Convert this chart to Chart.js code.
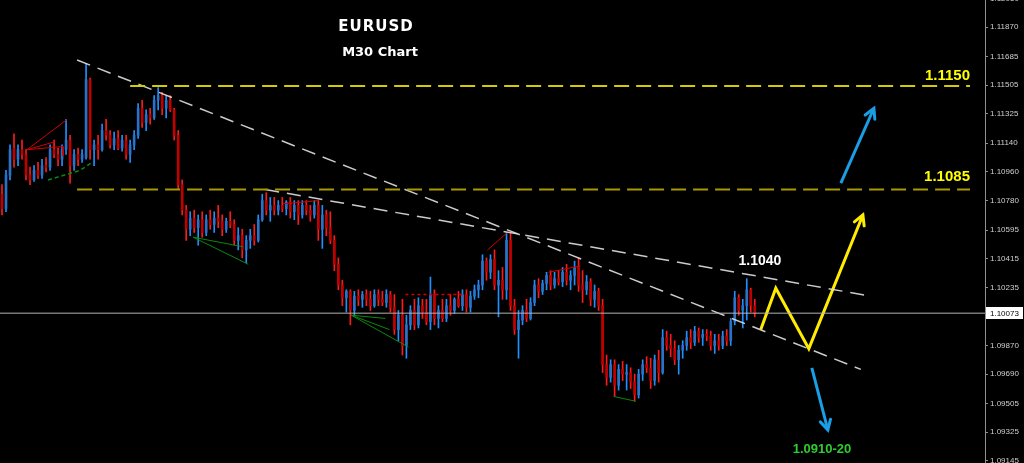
<!DOCTYPE html>
<html><head><meta charset="utf-8">
<script src="https://cdn.jsdelivr.net/npm/chart.js@4.4.1/dist/chart.umd.min.js"></script>
<style>html,body{margin:0;padding:0;background:#000;overflow:hidden}canvas{display:block}</style>
</head><body>
<canvas id="c" width="1024" height="463"></canvas>
<script>
// ---- M30 EURUSD candles ----
const open=[
1.1082,1.1073,1.1094,1.1111,1.1104,1.1110,1.1107,1.1094,1.1091,1.1097,
1.1094,1.1100,1.1099,1.1110,1.1107,1.1104,1.1110,1.1116,1.1100,1.1107,
1.1104,1.1105,1.1154,1.1110,1.1113,1.1110,1.1122,1.1119,1.1113,1.1117,
1.1111,1.1116,1.1107,1.1113,1.1119,1.1136,1.1127,1.1132,1.1130,1.1141,
1.1144,1.1136,1.1141,1.1135,1.1119,1.1088,1.1072,1.1060,1.1067,1.1061,
1.1066,1.1058,1.1066,1.1063,1.1067,1.1065,1.1060,1.1065,1.1063,1.1053,
1.1056,1.1047,1.1053,1.1056,1.1053,1.1066,1.1078,1.1072,1.1075,1.1072,
1.1075,1.1073,1.1077,1.1071,1.1075,1.1069,1.1075,1.1072,1.1069,1.1075,
1.1060,1.1069,1.1061,1.1053,1.1038,1.1025,1.1017,1.1021,1.1009,1.1018,
1.1016,1.1019,1.1016,1.1012,1.1019,1.1016,1.1014,1.1019,1.1011,1.0997,
1.1006,1.0987,1.1000,1.1009,1.1000,1.1012,1.1008,1.1002,1.1019,1.1004,
1.1009,1.1004,1.1012,1.1009,1.1016,1.1012,1.1019,1.1011,1.1018,1.1022,
1.1025,1.1040,1.1033,1.1041,1.1025,1.1028,1.1022,1.1053,1.1012,1.0997,
1.1003,1.1009,1.1004,1.1014,1.1025,1.1021,1.1026,1.1031,1.1025,1.1029,
1.1027,1.1033,1.1028,1.1031,1.1036,1.1025,1.1022,1.1027,1.1016,1.1021,
1.1012,1.0975,1.0967,1.0975,1.0962,1.0972,1.0969,1.0970,1.0964,1.0956,
1.0969,1.0975,1.0973,1.0965,1.0978,1.0970,1.0992,1.0987,1.0985,1.0978,
1.0984,1.0987,1.0992,1.0989,1.0996,1.0992,1.0994,1.0993,1.0987,1.0990,
1.0987,1.0993,1.0990,1.1002,1.1017,1.1009,1.1012,1.1022,1.1012];
const high=[
1.1088,1.1097,1.1113,1.1120,1.1113,1.1116,1.1110,1.1099,1.1100,1.1102,
1.1104,1.1105,1.1113,1.1116,1.1111,1.1113,1.1129,1.1119,1.1110,1.1111,
1.1110,1.1164,1.1155,1.1116,1.1119,1.1126,1.1129,1.1122,1.1121,1.1122,
1.1119,1.1119,1.1116,1.1122,1.1139,1.1141,1.1135,1.1136,1.1144,1.1149,
1.1146,1.1144,1.1144,1.1136,1.1122,1.1091,1.1075,1.1071,1.1072,1.1069,
1.1071,1.1069,1.1072,1.1071,1.1075,1.1069,1.1067,1.1071,1.1066,1.1061,
1.1060,1.1056,1.1060,1.1063,1.1069,1.1082,1.1083,1.1080,1.1080,1.1078,
1.1080,1.1078,1.1080,1.1078,1.1078,1.1078,1.1078,1.1075,1.1078,1.1078,
1.1075,1.1072,1.1071,1.1056,1.1042,1.1028,1.1022,1.1022,1.1021,1.1022,
1.1021,1.1022,1.1021,1.1022,1.1022,1.1021,1.1022,1.1021,1.1019,1.1009,
1.1016,1.1006,1.1012,1.1016,1.1017,1.1016,1.1016,1.1030,1.1022,1.1012,
1.1016,1.1016,1.1019,1.1017,1.1021,1.1022,1.1022,1.1021,1.1025,1.1028,
1.1044,1.1042,1.1044,1.1047,1.1034,1.1036,1.1058,1.1058,1.1016,1.1009,
1.1012,1.1016,1.1017,1.1028,1.1029,1.1028,1.1033,1.1034,1.1033,1.1034,
1.1036,1.1038,1.1034,1.1040,1.1042,1.1034,1.1031,1.1029,1.1025,1.1023,
1.1016,1.0981,1.0978,1.0978,1.0975,1.0977,1.0975,1.0973,1.0969,1.0972,
1.0978,1.0980,1.0979,1.0981,1.0984,1.0997,1.0996,1.0994,1.0990,1.0987,
1.0990,1.0996,1.0997,1.0999,1.0998,1.0997,1.0997,1.0996,1.0994,1.0994,
1.0996,1.0997,1.1004,1.1021,1.1019,1.1016,1.1029,1.1023,1.1016];
const low=[
1.1069,1.1071,1.1091,1.1099,1.1100,1.1104,1.1091,1.1088,1.1090,1.1092,
1.1092,1.1096,1.1097,1.1105,1.1100,1.1100,1.1107,1.1089,1.1097,1.1100,
1.1102,1.1104,1.1104,1.1100,1.1104,1.1109,1.1116,1.1111,1.1110,1.1110,
1.1109,1.1104,1.1102,1.1110,1.1117,1.1124,1.1122,1.1126,1.1129,1.1135,
1.1132,1.1130,1.1134,1.1116,1.1085,1.1069,1.1053,1.1056,1.1058,1.1050,
1.1055,1.1056,1.1060,1.1058,1.1061,1.1056,1.1058,1.1061,1.1050,1.1047,
1.1042,1.1039,1.1048,1.1050,1.1052,1.1065,1.1069,1.1065,1.1069,1.1069,
1.1071,1.1069,1.1067,1.1066,1.1063,1.1067,1.1069,1.1065,1.1067,1.1053,
1.1048,1.1056,1.1051,1.1034,1.1022,1.1012,1.1008,1.1000,1.1006,1.1012,
1.1011,1.1012,1.1009,1.1011,1.1012,1.1012,1.1011,1.1008,1.0994,1.0990,
1.0981,1.0979,1.0997,1.0997,1.0998,1.1004,1.1000,1.0997,1.1000,1.0998,
1.1002,1.1002,1.1006,1.1007,1.1011,1.1009,1.1008,1.1008,1.1016,1.1017,
1.1022,1.1028,1.1029,1.1022,1.1005,1.1016,1.1016,1.1009,1.0994,1.0979,
1.1000,1.1002,1.1003,1.1012,1.1017,1.1019,1.1022,1.1022,1.1023,1.1025,
1.1024,1.1025,1.1022,1.1025,1.1021,1.1014,1.1019,1.1012,1.1011,1.1009,
1.0970,1.0962,1.0964,1.0955,1.0959,1.0965,1.0959,1.0960,1.0952,1.0954,
1.0965,1.0970,1.0960,1.0962,1.0964,1.0969,1.0984,1.0980,1.0975,1.0969,
1.0979,1.0984,1.0985,1.0987,1.0989,1.0987,1.0990,1.0984,1.0982,1.0984,
1.0985,1.0987,1.0987,1.1000,1.1006,1.0998,1.1003,1.1008,1.1005];
const close=[
1.1073,1.1094,1.1110,1.1104,1.1110,1.1107,1.1094,1.1091,1.1097,1.1094,
1.1100,1.1099,1.1110,1.1107,1.1104,1.1110,1.1116,1.1100,1.1107,1.1104,
1.1107,1.1154,1.1110,1.1113,1.1110,1.1122,1.1119,1.1113,1.1117,1.1111,
1.1116,1.1107,1.1113,1.1119,1.1136,1.1127,1.1132,1.1130,1.1141,1.1144,
1.1136,1.1141,1.1135,1.1119,1.1088,1.1072,1.1060,1.1067,1.1061,1.1066,
1.1058,1.1066,1.1063,1.1067,1.1065,1.1060,1.1065,1.1063,1.1053,1.1056,
1.1047,1.1053,1.1056,1.1053,1.1066,1.1078,1.1072,1.1075,1.1072,1.1075,
1.1073,1.1077,1.1071,1.1075,1.1069,1.1075,1.1072,1.1069,1.1075,1.1060,
1.1069,1.1061,1.1053,1.1038,1.1025,1.1017,1.1021,1.1009,1.1018,1.1016,
1.1019,1.1016,1.1012,1.1019,1.1016,1.1014,1.1019,1.1011,1.0997,1.1006,
1.0987,1.1000,1.1009,1.1000,1.1012,1.1008,1.1002,1.1019,1.1004,1.1009,
1.1004,1.1012,1.1009,1.1016,1.1012,1.1019,1.1011,1.1018,1.1022,1.1025,
1.1040,1.1033,1.1041,1.1025,1.1028,1.1022,1.1053,1.1012,1.0997,1.1003,
1.1009,1.1004,1.1014,1.1025,1.1021,1.1026,1.1031,1.1025,1.1029,1.1027,
1.1033,1.1028,1.1031,1.1036,1.1025,1.1022,1.1027,1.1016,1.1021,1.1012,
1.0975,1.0967,1.0975,1.0962,1.0972,1.0969,1.0970,1.0964,1.0956,1.0969,
1.0975,1.0973,1.0965,1.0978,1.0970,1.0992,1.0987,1.0985,1.0978,1.0984,
1.0987,1.0992,1.0989,1.0996,1.0992,1.0994,1.0993,1.0987,1.0990,1.0987,
1.0993,1.0990,1.1002,1.1017,1.1009,1.1012,1.1022,1.1012,1.10073];

// ---- price axis tick labels & levels ----
const yTicks=[1.12050,1.11870,1.11685,1.11505,1.11325,1.11140,1.10960,1.10780,1.10595,1.10415,1.10235,1.10050,1.09870,1.09690,1.09505,1.09325,1.09145];
const yMax=1.12040, yMin=1.09132;
const currentPrice=1.10073;
const levelPrices=[1.1150,1.1085];
const levelStart=[32,18.75];
const levelEnd=241.75;
const slotCount=246; // M30 slots incl. future space
const slots=Array.from({length:slotCount},(_,i)=>String(i));

// trendlines (slot, price)
const trendA=[{x:18.75,y:1.11663},{x:214.5,y:1.0972}];
const trendB=[{x:65.75,y:1.1085},{x:217,y:1.1018}];
// projection path and arrows
const zigzag=[{x:189.5,y:1.0997},{x:193.25,y:1.1023},{x:201.5,y:1.0985},{x:215,y:1.1069}];
const arrowUp=[{x:209.5,y:1.1089},{x:217.75,y:1.1136}];
const arrowDown=[{x:202.25,y:1.0973},{x:206.25,y:1.0934}];
// fractal / pattern lines
const redSegs=[
 [{x:6.25,y:1.1110},{x:16.25,y:1.1129}],
 [{x:6.25,y:1.1110},{x:13.25,y:1.1115}],
 [{x:6.25,y:1.1110},{x:15.25,y:1.1112},{x:15.25,y:1.1106}],
 [{x:121.25,y:1.1047},{x:126.25,y:1.1058}],
 [{x:136.5,y:1.1033},{x:144.5,y:1.1037}],
 [{x:70.25,y:1.1076},{x:79,y:1.1078}]
];
const redDotted=[[{x:100.75,y:1.1019},{x:115.75,y:1.1019}]];
const greenSegs=[
 [{x:47.75,y:1.1055},{x:60.25,y:1.1049}],
 [{x:47.75,y:1.1055},{x:61.5,y:1.1038}],
 [{x:87.25,y:1.1006},{x:95.75,y:1.1004}],
 [{x:87.25,y:1.1006},{x:96.75,y:1.0997}],
 [{x:87.25,y:1.1006},{x:101.5,y:1.0986}],
 [{x:152.75,y:1.0955},{x:158.25,y:1.0952}]
];
const greenDashed=[[{x:11.5,y:1.1091},{x:19.5,y:1.1097},{x:22.5,y:1.1102}]];

const annotations=[
 {text:'1.1150',x:241.75,y:1.11563,color:'#ffff00',font:'bold 15px "Liberation Sans"',align:'right'},
 {text:'1.1085',x:241.75,y:1.10928,color:'#ffff00',font:'bold 15px "Liberation Sans"',align:'right'},
 {text:'1.1040',x:189.3,y:1.10401,color:'#ffffff',font:'bold 14px "Liberation Sans"',align:'center'},
 {text:'1.0910-20',x:204.8,y:1.09220,color:'#2ecc2e',font:'bold 13px "Liberation Sans"',align:'center'}
];

const isUp=close.map((c,i)=>c>=open[i]);
const lineDS=(data,color,width,dash,extra)=>Object.assign({type:'line',xAxisID:'x2',yAxisID:'y',data,borderColor:color,borderWidth:width,borderDash:dash||[],pointRadius:0,tension:0,fill:false,order:1},extra||{});

const datasets=[
 {type:'bar',xAxisID:'x',yAxisID:'y',data:low.map((l,i)=>[l,high[i]]),backgroundColor:isUp.map(u=>u?'#1e90ff':'#ff1a1a'),barThickness:1,grouped:false,order:10},
 {type:'bar',xAxisID:'x',yAxisID:'y',data:open.map((o,i)=>[o,close[i]]),backgroundColor:isUp.map(u=>u?'#2a72c8':'#c00000'),barThickness:2,grouped:false,order:9}
];
levelPrices.forEach((p,k)=>datasets.push(lineDS([{x:levelStart[k],y:p},{x:levelEnd,y:p}],k===0?'#d6ca00':'#a89a00',2,[15,7])));
datasets.push(lineDS([{x:-0.5,y:currentPrice},{x:slotCount-0.5,y:currentPrice}],'#b4b4b4',1));
datasets.push(lineDS(trendA,'rgba(225,225,225,0.9)',1.5,[14,8]));
datasets.push(lineDS(trendB,'rgba(225,225,225,0.9)',1.5,[14,8]));
redSegs.forEach(s=>datasets.push(lineDS(s,'#d00000',1)));
redDotted.forEach(s=>datasets.push(lineDS(s,'#d00000',1.5,[3,3])));
greenSegs.forEach(s=>datasets.push(lineDS(s,'#0a8a0a',1)));
greenDashed.forEach(s=>datasets.push(lineDS(s,'#0a8a0a',1.5,[4,3])));
datasets.push(lineDS(zigzag,'#ffec00',3,[],{arrowHead:true,borderJoinStyle:'miter'}));
datasets.push(lineDS(arrowUp,'#1a9ee6',3,[],{arrowHead:true}));
datasets.push(lineDS(arrowDown,'#1a9ee6',3,[],{arrowHead:true}));

const bgPlugin={id:'bg',beforeDraw(c){const x=c.ctx;x.save();x.fillStyle='#000';x.fillRect(0,0,c.width,c.height);x.restore();}};
const overlayPlugin={id:'overlay',afterDatasetsDraw(c){
 const ctx=c.ctx;
 c.data.datasets.forEach((d,i)=>{
  if(!d.arrowHead)return;
  const pts=c.getDatasetMeta(i).data; if(pts.length<2)return;
  const a=pts[pts.length-2],b=pts[pts.length-1];
  const ang=Math.atan2(b.y-a.y,b.x-a.x),L=11,s=0.5;
  ctx.save();ctx.strokeStyle=d.borderColor;ctx.lineWidth=d.borderWidth;ctx.lineCap='round';
  ctx.beginPath();
  ctx.moveTo(b.x-L*Math.cos(ang-s),b.y-L*Math.sin(ang-s));ctx.lineTo(b.x,b.y);
  ctx.lineTo(b.x-L*Math.cos(ang+s),b.y-L*Math.sin(ang+s));ctx.stroke();ctx.restore();
 });
 const xs=c.scales.x2,ys=c.scales.y;
 ctx.save();ctx.textBaseline='middle';
 annotations.forEach(a=>{ctx.font=a.font;ctx.fillStyle=a.color;ctx.textAlign=a.align;ctx.fillText(a.text,xs.getPixelForValue(a.x),ys.getPixelForValue(a.y));});
 ctx.fillStyle='#ffffff';ctx.textAlign='center';
 ctx.font='bold 15px "DejaVu Sans"';ctx.letterSpacing='1px';ctx.fillText('EURUSD',376,27);
 ctx.letterSpacing='0px';ctx.font='bold 13px "DejaVu Sans"';ctx.fillText('M30 Chart',380,53);
 ctx.restore();
},afterDraw(c){
 const ctx=c.ctx,ys=c.scales.y;const py=ys.getPixelForValue(currentPrice);
 ctx.save();ctx.fillStyle='#ffffff';ctx.fillRect(ys.left+1,Math.round(py)-6,37,12);
 ctx.fillStyle='#000';ctx.font='8px "Liberation Sans"';ctx.textAlign='left';ctx.textBaseline='middle';
 ctx.fillText(currentPrice.toFixed(5),ys.left+5,py+0.5);ctx.restore();
}};

new Chart(document.getElementById('c'),{
 data:{labels:slots,datasets},
 options:{
  responsive:false,animation:false,devicePixelRatio:1,
  layout:{padding:0},
  plugins:{legend:{display:false},tooltip:{enabled:false},title:{display:false}},
  scales:{
   x:{type:'category',display:false,offset:true},
   x2:{type:'linear',display:false,min:-0.5,max:slotCount-0.5},
   y:{position:'right',min:yMin,max:yMax,
      afterBuildTicks:s=>{s.ticks=yTicks.map(v=>({value:v}));},
      afterFit:s=>{s.width=39;s.paddingTop=0;s.paddingBottom=0;},
      ticks:{autoSkip:false,color:'#cfcfcf',font:{family:'Liberation Sans',size:8},padding:2,callback:v=>Number(v).toFixed(5)},
      grid:{drawOnChartArea:false,drawTicks:true,tickLength:3,color:'#909090'},
      border:{display:true,color:'#909090'}}
  }
 },
 plugins:[bgPlugin,overlayPlugin]
});
</script>
</body></html>
